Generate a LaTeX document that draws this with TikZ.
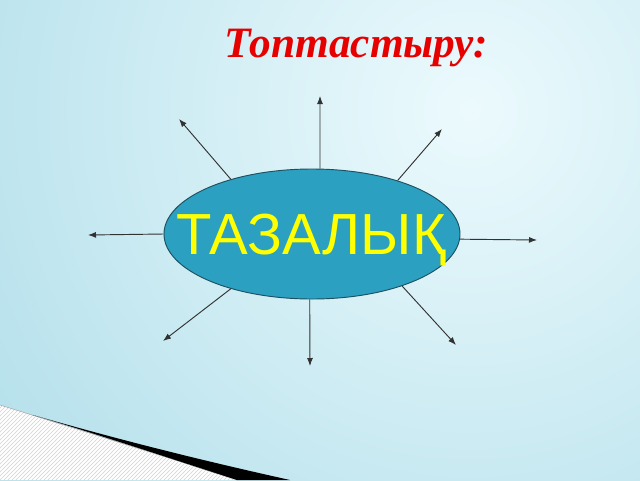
\documentclass[tikz,border=0pt]{standalone}
\usepackage{fontspec}
\setmainfont{Liberation Serif}
\newfontfamily\arialfont{Liberation Sans}
\usetikzlibrary{arrows.meta,shapes.geometric,patterns}
\definecolor{bgouter}{RGB}{140,205,222}
\definecolor{bginner}{RGB}{236,250,253}
\definecolor{ellfill}{RGB}{43,160,193}
\definecolor{elldraw}{RGB}{30,80,95}
\definecolor{titlered}{RGB}{230,0,0}
\definecolor{txtyellow}{RGB}{255,255,0}
\definecolor{arrowgray}{RGB}{50,50,50}
\begin{document}
\begin{tikzpicture}[x=0.75pt,y=-0.75pt,
 spoke/.style={draw=arrowgray,line width=0.7pt,-{Latex[length=6pt,width=4.5pt]}},
 hub/.style={ellipse,draw=elldraw,line width=0.7pt,fill=ellfill,minimum width=222pt,minimum height=97.5pt,inner sep=0pt},
 ]
\useasboundingbox (0,0) rectangle (640,480);
\begin{scope}
\clip (0,0) rectangle (640,480);
\shade[inner color=bginner,outer color=bgouter] (470,110) circle (1000);
\fill[white] (0,405) .. controls (80,430) and (160,455) .. (237,480) -- (0,480) -- cycle;
\fill[pattern=north east lines,pattern color=gray!35] (0,405) .. controls (80,430) and (160,455) .. (237,480) -- (0,480) -- cycle;
\draw[gray!70,line width=0.4pt] (0,405) .. controls (80,430) and (160,455) .. (237,480);
\fill[black] (33,415) .. controls (120,440) and (200,460) .. (290,480) -- (237,480) .. controls (160,455) and (90,432) .. (33,415) -- cycle;
\end{scope}

\node[anchor=base west,font=\bfseries\itshape\fontsize{32.5}{38}\selectfont,text=titlered] (title) at (220,57) {Топтастыру:};

\node[hub] (c) at (312,234) {};
\node[anchor=base,font=\arialfont\fontsize{43.5}{50}\selectfont,text=txtyellow,inner sep=0pt] (lbl) at (311,254) {ТАЗАЛЫҚ};

\coordinate (t1) at (179,119);
\coordinate (t2) at (88,235);
\coordinate (t3) at (320,96);
\coordinate (t4) at (442,129);
\coordinate (t5) at (537,240);
\coordinate (t6) at (163,341);
\coordinate (t7) at (310,366);
\coordinate (t8) at (456,345);
\draw[spoke] (c.146) -- (t1);
\draw[spoke] (c.180) -- (t2);
\draw[spoke] (c.83) -- (t3);
\draw[spoke] (c.32) -- (t4);
\draw[spoke] (c.-2) -- (t5);
\draw[spoke] (c.214) -- (t6);
\draw[spoke] (c.268) -- (t7);
\draw[spoke] (c.-30) -- (t8);
\end{tikzpicture}
\end{document}
